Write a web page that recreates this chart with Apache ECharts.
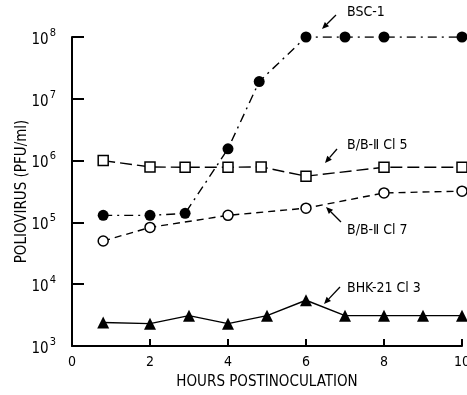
<!DOCTYPE html>
<html>
<head>
<meta charset="utf-8">
<script src="https://cdn.jsdelivr.net/npm/echarts@6/dist/echarts.min.js"></script>
<style>
html,body{margin:0;padding:0;background:#fff;}
#chart{width:467px;height:395px;}
</style>
</head>
<body>
<div id="chart"></div>
<script>
// hours post inoculation / PFU per ml
var hoursBSC = [0.8, 2, 2.9, 4, 4.8, 6, 7, 8, 10];
var bsc1 = [1.3e5, 1.3e5, 1.4e5, 1.55e6, 1.9e7, 1e8, 1e8, 1e8, 1e8];

var hoursCl5 = [0.8, 2, 2.9, 4, 4.85, 6, 8, 10];
var bbCl5 = [1e6, 7.9e5, 7.8e5, 7.8e5, 7.9e5, 5.6e5, 7.8e5, 7.8e5];

var hoursCl7 = [0.8, 2, 4, 6, 8, 10];
var bbCl7 = [5e4, 8.3e4, 1.3e5, 1.7e5, 3e5, 3.2e5];

var hoursBHK = [0.8, 2, 3, 4, 5, 6, 7, 8, 9, 10];
var bhk21 = [2.4e3, 2.3e3, 3.1e3, 2.3e3, 3.1e3, 5.5e3, 3.1e3, 3.1e3, 3.1e3, 3.1e3];

var seriesNames = ['BSC-1', 'B/B-Ⅱ Cl 5', 'B/B-Ⅱ Cl 7', 'BHK-21 Cl 3'];

function pairs(xs, ys) {
    var out = [];
    for (var i = 0; i < xs.length; i++) {
        out.push([xs[i], ys[i]]);
    }
    return out;
}

var FONT = '"DejaVu Sans Condensed", "DejaVu Sans", sans-serif';

// label + arrow pointing at the curve
function note(text, tx, ty, x1, y1, x2, y2) {
    var ang = Math.atan2(y2 - y1, x2 - x1);
    var L = 7, W = 3;
    var bx = x2 - L * Math.cos(ang), by = y2 - L * Math.sin(ang);
    var px = -Math.sin(ang) * W, py = Math.cos(ang) * W;
    return [
        { type: 'text', left: tx, top: ty, style: { text: text, fill: '#000', font: '14px ' + FONT } },
        { type: 'line', shape: { x1: x1, y1: y1, x2: bx, y2: by }, style: { stroke: '#000', lineWidth: 1.3 } },
        { type: 'polygon', shape: { points: [[x2, y2], [bx + px, by + py], [bx - px, by - py]] }, style: { fill: '#000' } }
    ];
}

var myChart = echarts.init(document.getElementById('chart'));

var option = {
    backgroundColor: '#fff',
    animation: false,
    grid: { left: 72, right: 5, top: 37, bottom: 49, containLabel: false, outerBoundsMode: 'none' },
    xAxis: {
        type: 'value',
        min: 0,
        max: 10,
        interval: 2,
        name: 'HOURS POSTINOCULATION',
        nameLocation: 'middle',
        nameGap: 29,
        nameTextStyle: { color: '#000', fontFamily: FONT, fontSize: 15 },
        axisLine: { lineStyle: { color: '#000', width: 2 } },
        axisTick: { inside: true, length: 7, lineStyle: { color: '#000', width: 2 } },
        axisLabel: { color: '#000', fontFamily: FONT, fontSize: 14, margin: 9, hideOverlap: false },
        splitLine: { show: false }
    },
    yAxis: {
        type: 'log',
        logBase: 10,
        min: 1e3,
        max: 1e8,
        name: 'POLIOVIRUS (PFU/ml)',
        nameLocation: 'middle',
        nameGap: 42,
        nameMoveOverlap: false,
        nameTextStyle: { color: '#000', fontFamily: FONT, fontSize: 15 },
        axisLine: { lineStyle: { color: '#000', width: 2 } },
        axisTick: { inside: true, length: 12, lineStyle: { color: '#000', width: 2 } },
        axisLabel: {
            margin: 16,
            formatter: function (v) {
                return '{b|10}{s|' + Math.round(Math.log10(v)) + '}';
            },
            rich: {
                b: { color: '#000', fontFamily: FONT, fontSize: 15, padding: [6, 0, 0, 0] },
                s: { color: '#000', fontFamily: FONT, fontSize: 11, padding: [0, 0, 8, 1] }
            }
        },
        splitLine: { show: false }
    },
    series: [
        {
            name: seriesNames[0],
            type: 'line',
            data: pairs(hoursBSC, bsc1),
            symbol: 'circle',
            symbolSize: 11,
            itemStyle: { color: '#000' },
            lineStyle: { color: '#000', width: 1.4, type: [9, 5, 2, 5] }
        },
        {
            name: seriesNames[1],
            type: 'line',
            data: pairs(hoursCl5, bbCl5),
            symbol: 'rect',
            symbolSize: 10,
            itemStyle: { color: '#fff', borderColor: '#000', borderWidth: 1.5 },
            lineStyle: { color: '#000', width: 1.4, type: [12, 5] }
        },
        {
            name: seriesNames[2],
            type: 'line',
            data: pairs(hoursCl7, bbCl7),
            symbol: 'circle',
            symbolSize: 10,
            itemStyle: { color: '#fff', borderColor: '#000', borderWidth: 1.5 },
            lineStyle: { color: '#000', width: 1.4, type: [7, 5] }
        },
        {
            name: seriesNames[3],
            type: 'line',
            data: pairs(hoursBHK, bhk21),
            symbol: 'triangle',
            symbolSize: 12,
            itemStyle: { color: '#000' },
            lineStyle: { color: '#000', width: 1.4, type: 'solid' }
        }
    ],
    graphic: [].concat(
        note(seriesNames[0], 347, 5, 336, 15, 322, 29),
        note(seriesNames[1], 347, 138, 337, 149, 325, 163),
        note(seriesNames[2], 347, 223, 341, 222, 326, 207),
        note(seriesNames[3], 347, 281, 340, 287, 324, 304)
    )
};

myChart.setOption(option);
</script>
</body>
</html>
